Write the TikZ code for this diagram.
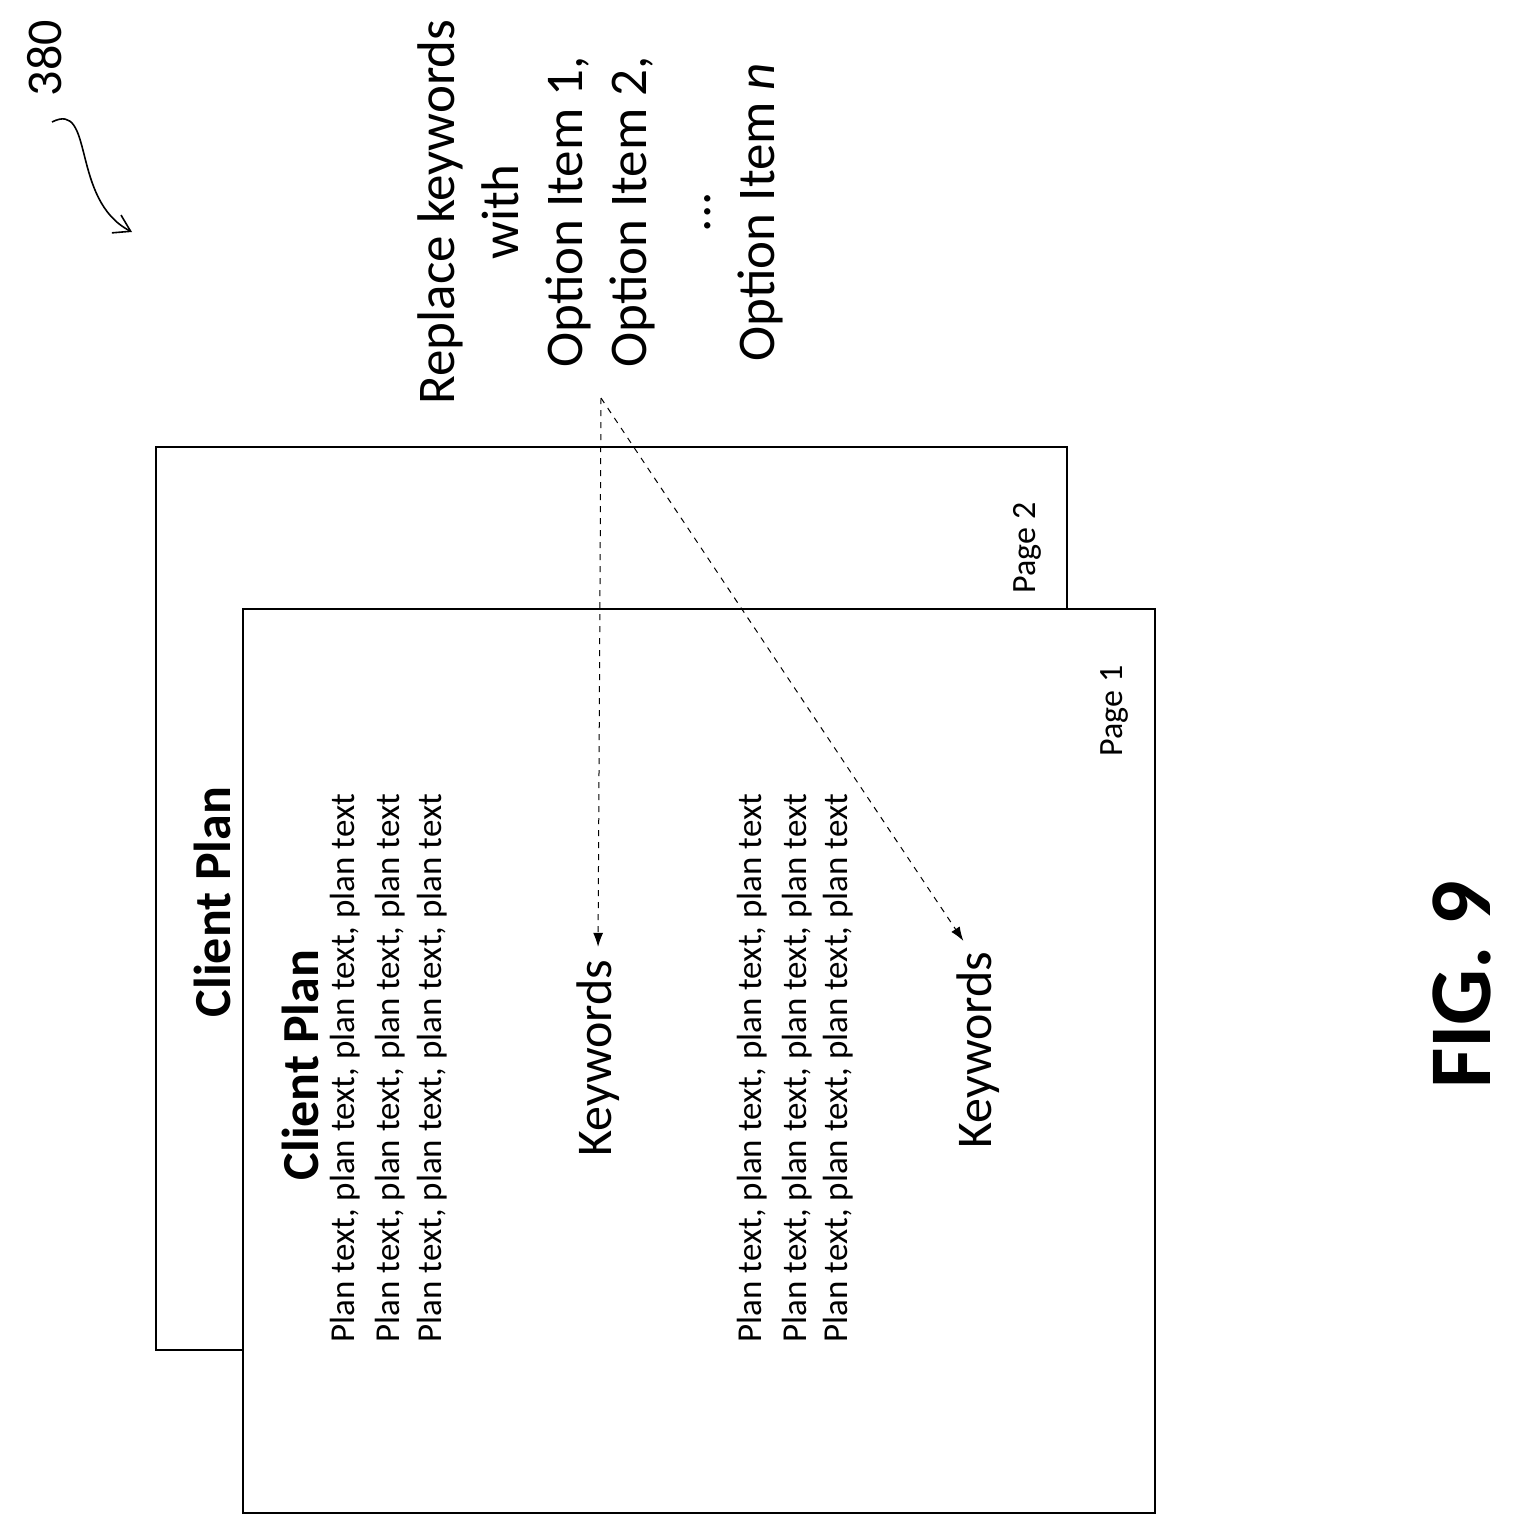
\documentclass[tikz,border=0pt]{standalone}
\usepackage{fontspec}
\setmainfont{Carlito}
\usetikzlibrary{arrows.meta}
\begin{document}
\begin{tikzpicture}[x=0.5pt, y=-0.5pt, line width=0.8pt]
\def\plantext{Plan text, plan text, plan text, plan text}
\def\plansize{\fontsize{17.5pt}{20pt}\selectfont}
\def\titlesize{\fontsize{26pt}{30pt}\selectfont\bfseries}
\def\pagesize{\fontsize{17pt}{20pt}\selectfont}
\tikzset{txt/.style={rotate=90, inner sep=0pt}}
\useasboundingbox (0,0) rectangle (1514,1536);

\begin{scope} % PAGE 2
\draw[fill=white] (156,447) rectangle (1067,1350);
\node[txt] (pagetwo) at (1027,548) {\pagesize Page 2};
\node[txt] (titletwo) at (212,902) {\titlesize Client Plan};
\end{scope}

\begin{scope} % PAGE 1
\draw[fill=white] (243,609) rectangle (1155,1513);
\node[txt] (pageone) at (1114,711) {\pagesize Page 1};
\node[txt] (titleone) at (300,1065) {\titlesize Client Plan};
\foreach \x in {345,390,432,752,797,838}
  \node[txt] at (\x,1068) {\plansize\plantext};
\node[txt, font=\fontsize{25pt}{30pt}\selectfont] (kwone) at (598,1058) {Keywords};
\node[txt, font=\fontsize{25pt}{30pt}\selectfont] (kwtwo) at (978,1050) {Keywords};
\end{scope}

% replacement note
\node[txt, align=center, font=\fontsize{26.5pt}{32pt}\selectfont] (replace) at (600,212) {Replace keywords\\ with\\ Option Item 1,\\ Option Item 2,\\ ...\\ Option Item \textit{n}};
\coordinate (src) at (601,398);
\draw[dashed, line width=0.5pt, -{Latex[length=7pt,width=5pt]}, shorten >=6pt] (src) -- (kwone.east);
\draw[dashed, line width=0.5pt, -{Latex[length=7pt,width=5pt]}, shorten >=6pt] (src) -- ([xshift=-4pt]kwtwo.east);

% reference numeral
\node[txt, font=\fontsize{25pt}{30pt}\selectfont] (ref) at (45,58) {380};
\coordinate (reftip) at (132,232);
\draw[-{Straight Barb[length=8pt,width=10pt]}] (52,122) .. controls (95,100) and (70,200) .. (reftip);

\node[txt] (fig) at (1462,985) {\fontsize{44pt}{48pt}\selectfont\bfseries FIG. 9};
\end{tikzpicture}
\end{document}
